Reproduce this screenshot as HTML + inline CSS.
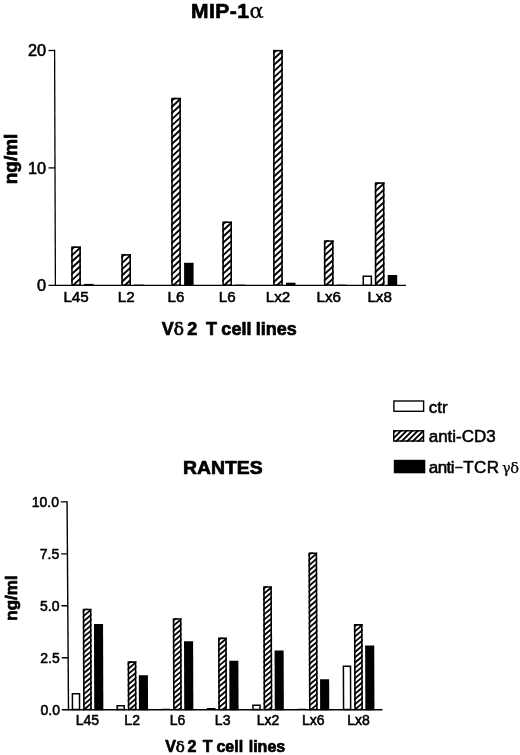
<!DOCTYPE html><html><head><meta charset="utf-8"><title>MIP-1α / RANTES</title>
<style>html,body{margin:0;padding:0;background:#fff}svg{display:block;will-change:transform;opacity:0.999}text{font-family:"Liberation Sans",Arial,sans-serif;fill:#000;stroke:#000;stroke-width:0.55px;stroke-linejoin:round}.b{font-weight:bold;stroke-width:0.7px}.s{font-family:"DejaVu Serif","Liberation Serif",serif;font-weight:normal}</style></head><body>
<svg width="520" height="755" viewBox="0 0 520 755">
<rect width="520" height="755" fill="#fff"/>
<text class="b" x="190.9" y="17.6" font-size="21" letter-spacing="0.5">MIP-1<tspan class="s" font-size="21" dx="0.2" stroke-width="0.3">α</tspan></text>
<text class="b" font-size="19" text-anchor="middle" transform="translate(16.8,159) rotate(-90)">ng/ml</text>
<g stroke="#000" stroke-width="1.3" fill="none">
<line x1="54.60" y1="49.85" x2="55.40" y2="285.95"/>
<line x1="48.5" y1="285.30" x2="406" y2="285.30"/>
<line x1="48.5" y1="167.90" x2="55.00" y2="167.90"/>
<line x1="48.5" y1="50.50" x2="55.00" y2="50.50"/>
</g>
<text x="46" y="291.10" font-size="16.3" text-anchor="end">0</text>
<text x="46" y="173.70" font-size="16.3" text-anchor="end">10</text>
<text x="46" y="56.30" font-size="16.3" text-anchor="end">20</text>
<clipPath id="c1"><rect x="71.20" y="246.40" width="9.70" height="39.50"/></clipPath><rect x="71.20" y="246.40" width="9.70" height="39.50" fill="#fff"/><g clip-path="url(#c1)" stroke="#000" stroke-width="1.90"><line x1="70.20" y1="250.73" x2="81.90" y2="239.97"/><line x1="70.20" y1="256.93" x2="81.90" y2="246.17"/><line x1="70.20" y1="263.13" x2="81.90" y2="252.37"/><line x1="70.20" y1="269.33" x2="81.90" y2="258.57"/><line x1="70.20" y1="275.53" x2="81.90" y2="264.77"/><line x1="70.20" y1="281.73" x2="81.90" y2="270.97"/><line x1="70.20" y1="287.93" x2="81.90" y2="277.17"/><line x1="70.20" y1="294.13" x2="81.90" y2="283.37"/><line x1="70.20" y1="300.33" x2="81.90" y2="289.57"/></g><rect x="72.00" y="247.20" width="8.10" height="37.90" fill="none" stroke="#000" stroke-width="1.60"/>
<rect x="84.10" y="283.90" width="9.50" height="2.00" fill="#000"/>
<text x="76.05" y="302" font-size="15.2" text-anchor="middle">L45</text>
<clipPath id="c2"><rect x="121.30" y="254.10" width="9.70" height="31.80"/></clipPath><rect x="121.30" y="254.10" width="9.70" height="31.80" fill="#fff"/><g clip-path="url(#c2)" stroke="#000" stroke-width="1.90"><line x1="120.30" y1="258.43" x2="132.00" y2="247.67"/><line x1="120.30" y1="264.63" x2="132.00" y2="253.87"/><line x1="120.30" y1="270.83" x2="132.00" y2="260.07"/><line x1="120.30" y1="277.03" x2="132.00" y2="266.27"/><line x1="120.30" y1="283.23" x2="132.00" y2="272.47"/><line x1="120.30" y1="289.43" x2="132.00" y2="278.67"/><line x1="120.30" y1="295.63" x2="132.00" y2="284.87"/><line x1="120.30" y1="301.83" x2="132.00" y2="291.07"/></g><rect x="122.10" y="254.90" width="8.10" height="30.20" fill="none" stroke="#000" stroke-width="1.60"/>
<rect x="134.20" y="284.60" width="9.50" height="1.30" fill="#000"/>
<text x="126.15" y="302" font-size="15.2" text-anchor="middle">L2</text>
<clipPath id="c3"><rect x="171.20" y="97.80" width="9.70" height="188.10"/></clipPath><rect x="171.20" y="97.80" width="9.70" height="188.10" fill="#fff"/><g clip-path="url(#c3)" stroke="#000" stroke-width="1.90"><line x1="170.20" y1="102.13" x2="181.90" y2="91.37"/><line x1="170.20" y1="108.33" x2="181.90" y2="97.57"/><line x1="170.20" y1="114.53" x2="181.90" y2="103.77"/><line x1="170.20" y1="120.73" x2="181.90" y2="109.97"/><line x1="170.20" y1="126.93" x2="181.90" y2="116.17"/><line x1="170.20" y1="133.13" x2="181.90" y2="122.37"/><line x1="170.20" y1="139.33" x2="181.90" y2="128.57"/><line x1="170.20" y1="145.53" x2="181.90" y2="134.77"/><line x1="170.20" y1="151.73" x2="181.90" y2="140.97"/><line x1="170.20" y1="157.93" x2="181.90" y2="147.17"/><line x1="170.20" y1="164.13" x2="181.90" y2="153.37"/><line x1="170.20" y1="170.33" x2="181.90" y2="159.57"/><line x1="170.20" y1="176.53" x2="181.90" y2="165.77"/><line x1="170.20" y1="182.73" x2="181.90" y2="171.97"/><line x1="170.20" y1="188.93" x2="181.90" y2="178.17"/><line x1="170.20" y1="195.13" x2="181.90" y2="184.37"/><line x1="170.20" y1="201.33" x2="181.90" y2="190.57"/><line x1="170.20" y1="207.53" x2="181.90" y2="196.77"/><line x1="170.20" y1="213.73" x2="181.90" y2="202.97"/><line x1="170.20" y1="219.93" x2="181.90" y2="209.17"/><line x1="170.20" y1="226.13" x2="181.90" y2="215.37"/><line x1="170.20" y1="232.33" x2="181.90" y2="221.57"/><line x1="170.20" y1="238.53" x2="181.90" y2="227.77"/><line x1="170.20" y1="244.73" x2="181.90" y2="233.97"/><line x1="170.20" y1="250.93" x2="181.90" y2="240.17"/><line x1="170.20" y1="257.13" x2="181.90" y2="246.37"/><line x1="170.20" y1="263.33" x2="181.90" y2="252.57"/><line x1="170.20" y1="269.53" x2="181.90" y2="258.77"/><line x1="170.20" y1="275.73" x2="181.90" y2="264.97"/><line x1="170.20" y1="281.93" x2="181.90" y2="271.17"/><line x1="170.20" y1="288.13" x2="181.90" y2="277.37"/><line x1="170.20" y1="294.33" x2="181.90" y2="283.57"/><line x1="170.20" y1="300.53" x2="181.90" y2="289.77"/></g><rect x="172.00" y="98.60" width="8.10" height="186.50" fill="none" stroke="#000" stroke-width="1.60"/>
<rect x="184.10" y="262.80" width="9.50" height="23.10" fill="#000"/>
<text x="176.05" y="302" font-size="15.2" text-anchor="middle">L6</text>
<clipPath id="c4"><rect x="222.30" y="221.50" width="9.70" height="64.40"/></clipPath><rect x="222.30" y="221.50" width="9.70" height="64.40" fill="#fff"/><g clip-path="url(#c4)" stroke="#000" stroke-width="1.90"><line x1="221.30" y1="225.83" x2="233.00" y2="215.07"/><line x1="221.30" y1="232.03" x2="233.00" y2="221.27"/><line x1="221.30" y1="238.23" x2="233.00" y2="227.47"/><line x1="221.30" y1="244.43" x2="233.00" y2="233.67"/><line x1="221.30" y1="250.63" x2="233.00" y2="239.87"/><line x1="221.30" y1="256.83" x2="233.00" y2="246.07"/><line x1="221.30" y1="263.03" x2="233.00" y2="252.27"/><line x1="221.30" y1="269.23" x2="233.00" y2="258.47"/><line x1="221.30" y1="275.43" x2="233.00" y2="264.67"/><line x1="221.30" y1="281.63" x2="233.00" y2="270.87"/><line x1="221.30" y1="287.83" x2="233.00" y2="277.07"/><line x1="221.30" y1="294.03" x2="233.00" y2="283.27"/><line x1="221.30" y1="300.23" x2="233.00" y2="289.47"/></g><rect x="223.10" y="222.30" width="8.10" height="62.80" fill="none" stroke="#000" stroke-width="1.60"/>
<rect x="235.20" y="284.60" width="9.50" height="1.30" fill="#000"/>
<text x="227.15" y="302" font-size="15.2" text-anchor="middle">L6</text>
<clipPath id="c5"><rect x="273.10" y="49.90" width="9.70" height="236.00"/></clipPath><rect x="273.10" y="49.90" width="9.70" height="236.00" fill="#fff"/><g clip-path="url(#c5)" stroke="#000" stroke-width="1.90"><line x1="272.10" y1="54.23" x2="283.80" y2="43.47"/><line x1="272.10" y1="60.43" x2="283.80" y2="49.67"/><line x1="272.10" y1="66.63" x2="283.80" y2="55.87"/><line x1="272.10" y1="72.83" x2="283.80" y2="62.07"/><line x1="272.10" y1="79.03" x2="283.80" y2="68.27"/><line x1="272.10" y1="85.23" x2="283.80" y2="74.47"/><line x1="272.10" y1="91.43" x2="283.80" y2="80.67"/><line x1="272.10" y1="97.63" x2="283.80" y2="86.87"/><line x1="272.10" y1="103.83" x2="283.80" y2="93.07"/><line x1="272.10" y1="110.03" x2="283.80" y2="99.27"/><line x1="272.10" y1="116.23" x2="283.80" y2="105.47"/><line x1="272.10" y1="122.43" x2="283.80" y2="111.67"/><line x1="272.10" y1="128.63" x2="283.80" y2="117.87"/><line x1="272.10" y1="134.83" x2="283.80" y2="124.07"/><line x1="272.10" y1="141.03" x2="283.80" y2="130.27"/><line x1="272.10" y1="147.23" x2="283.80" y2="136.47"/><line x1="272.10" y1="153.43" x2="283.80" y2="142.67"/><line x1="272.10" y1="159.63" x2="283.80" y2="148.87"/><line x1="272.10" y1="165.83" x2="283.80" y2="155.07"/><line x1="272.10" y1="172.03" x2="283.80" y2="161.27"/><line x1="272.10" y1="178.23" x2="283.80" y2="167.47"/><line x1="272.10" y1="184.43" x2="283.80" y2="173.67"/><line x1="272.10" y1="190.63" x2="283.80" y2="179.87"/><line x1="272.10" y1="196.83" x2="283.80" y2="186.07"/><line x1="272.10" y1="203.03" x2="283.80" y2="192.27"/><line x1="272.10" y1="209.23" x2="283.80" y2="198.47"/><line x1="272.10" y1="215.43" x2="283.80" y2="204.67"/><line x1="272.10" y1="221.63" x2="283.80" y2="210.87"/><line x1="272.10" y1="227.83" x2="283.80" y2="217.07"/><line x1="272.10" y1="234.03" x2="283.80" y2="223.27"/><line x1="272.10" y1="240.23" x2="283.80" y2="229.47"/><line x1="272.10" y1="246.43" x2="283.80" y2="235.67"/><line x1="272.10" y1="252.63" x2="283.80" y2="241.87"/><line x1="272.10" y1="258.83" x2="283.80" y2="248.07"/><line x1="272.10" y1="265.03" x2="283.80" y2="254.27"/><line x1="272.10" y1="271.23" x2="283.80" y2="260.47"/><line x1="272.10" y1="277.43" x2="283.80" y2="266.67"/><line x1="272.10" y1="283.63" x2="283.80" y2="272.87"/><line x1="272.10" y1="289.83" x2="283.80" y2="279.07"/><line x1="272.10" y1="296.03" x2="283.80" y2="285.27"/></g><rect x="273.90" y="50.70" width="8.10" height="234.40" fill="none" stroke="#000" stroke-width="1.60"/>
<rect x="286.00" y="282.70" width="9.50" height="3.20" fill="#000"/>
<text x="277.95" y="302" font-size="15.2" text-anchor="middle">Lx2</text>
<clipPath id="c6"><rect x="323.90" y="240.30" width="9.70" height="45.60"/></clipPath><rect x="323.90" y="240.30" width="9.70" height="45.60" fill="#fff"/><g clip-path="url(#c6)" stroke="#000" stroke-width="1.90"><line x1="322.90" y1="244.63" x2="334.60" y2="233.87"/><line x1="322.90" y1="250.83" x2="334.60" y2="240.07"/><line x1="322.90" y1="257.03" x2="334.60" y2="246.27"/><line x1="322.90" y1="263.23" x2="334.60" y2="252.47"/><line x1="322.90" y1="269.43" x2="334.60" y2="258.67"/><line x1="322.90" y1="275.63" x2="334.60" y2="264.87"/><line x1="322.90" y1="281.83" x2="334.60" y2="271.07"/><line x1="322.90" y1="288.03" x2="334.60" y2="277.27"/><line x1="322.90" y1="294.23" x2="334.60" y2="283.47"/><line x1="322.90" y1="300.43" x2="334.60" y2="289.67"/></g><rect x="324.70" y="241.10" width="8.10" height="44.00" fill="none" stroke="#000" stroke-width="1.60"/>
<rect x="336.80" y="284.60" width="9.50" height="1.30" fill="#000"/>
<text x="328.75" y="302" font-size="15.2" text-anchor="middle">Lx6</text>
<rect x="363.25" y="276.25" width="8.10" height="8.90" fill="#fff" stroke="#000" stroke-width="1.50"/>
<clipPath id="c7"><rect x="374.80" y="182.30" width="9.70" height="103.60"/></clipPath><rect x="374.80" y="182.30" width="9.70" height="103.60" fill="#fff"/><g clip-path="url(#c7)" stroke="#000" stroke-width="1.90"><line x1="373.80" y1="186.63" x2="385.50" y2="175.87"/><line x1="373.80" y1="192.83" x2="385.50" y2="182.07"/><line x1="373.80" y1="199.03" x2="385.50" y2="188.27"/><line x1="373.80" y1="205.23" x2="385.50" y2="194.47"/><line x1="373.80" y1="211.43" x2="385.50" y2="200.67"/><line x1="373.80" y1="217.63" x2="385.50" y2="206.87"/><line x1="373.80" y1="223.83" x2="385.50" y2="213.07"/><line x1="373.80" y1="230.03" x2="385.50" y2="219.27"/><line x1="373.80" y1="236.23" x2="385.50" y2="225.47"/><line x1="373.80" y1="242.43" x2="385.50" y2="231.67"/><line x1="373.80" y1="248.63" x2="385.50" y2="237.87"/><line x1="373.80" y1="254.83" x2="385.50" y2="244.07"/><line x1="373.80" y1="261.03" x2="385.50" y2="250.27"/><line x1="373.80" y1="267.23" x2="385.50" y2="256.47"/><line x1="373.80" y1="273.43" x2="385.50" y2="262.67"/><line x1="373.80" y1="279.63" x2="385.50" y2="268.87"/><line x1="373.80" y1="285.83" x2="385.50" y2="275.07"/><line x1="373.80" y1="292.03" x2="385.50" y2="281.27"/><line x1="373.80" y1="298.23" x2="385.50" y2="287.47"/></g><rect x="375.60" y="183.10" width="8.10" height="102.00" fill="none" stroke="#000" stroke-width="1.60"/>
<rect x="387.70" y="275.00" width="9.50" height="10.90" fill="#000"/>
<text x="379.65" y="302" font-size="15.2" text-anchor="middle">Lx8</text>
<text class="b" x="161.7" y="335.2" font-size="18">V<tspan class="s" font-size="17">δ</tspan><tspan dx="3.4">2</tspan><tspan dx="8.7" word-spacing="-0.7">T cell lines</tspan></text>
<rect x="393.90" y="401.00" width="29.70" height="10.30" fill="#fff" stroke="#000" stroke-width="1.40"/>
<clipPath id="c8"><rect x="393.00" y="430.10" width="31.20" height="11.60"/></clipPath><rect x="393.00" y="430.10" width="31.20" height="11.60" fill="#fff"/><g clip-path="url(#c8)" stroke="#000" stroke-width="1.90"><line x1="392.00" y1="434.18" x2="425.20" y2="400.98"/><line x1="392.00" y1="439.78" x2="425.20" y2="406.58"/><line x1="392.00" y1="445.38" x2="425.20" y2="412.18"/><line x1="392.00" y1="450.98" x2="425.20" y2="417.78"/><line x1="392.00" y1="456.58" x2="425.20" y2="423.38"/><line x1="392.00" y1="462.18" x2="425.20" y2="428.98"/><line x1="392.00" y1="467.78" x2="425.20" y2="434.58"/><line x1="392.00" y1="473.38" x2="425.20" y2="440.18"/><line x1="392.00" y1="478.98" x2="425.20" y2="445.78"/></g><rect x="393.70" y="430.80" width="29.80" height="10.20" fill="none" stroke="#000" stroke-width="1.40"/>
<rect x="393.80" y="459.80" width="31.50" height="13.50" fill="#000"/>
<text x="428.7" y="412.5" font-size="17">ctr</text>
<text x="428.7" y="441.6" font-size="17">anti-CD3</text>
<text x="428.7" y="472.8" font-size="17" letter-spacing="-0.5">anti<tspan x="455.4" dy="-1.4" font-size="12.5">–</tspan><tspan x="463.2" dy="1.4" letter-spacing="0.5">TCR</tspan><tspan class="s" font-size="14.5" x="502" letter-spacing="-0.3" stroke-width="0.25">γδ</tspan></text>
<text class="b" transform="translate(183,473.7) scale(1.06,1)" font-size="18.3" stroke-width="0.7">RANTES</text>
<text class="b" font-size="17" text-anchor="middle" transform="translate(17.3,598) rotate(-90)">ng/ml</text>
<g transform="matrix(1,0,0.0035,1,-2.484,0)">
<g stroke="#000" stroke-width="1.4" fill="none">
<line x1="67.80" y1="501.20" x2="68.50" y2="710.40"/>
<line x1="61.8" y1="709.70" x2="382.5" y2="709.70"/>
<line x1="62.03" y1="657.75" x2="68.33" y2="657.75"/>
<line x1="61.85" y1="605.80" x2="68.15" y2="605.80"/>
<line x1="61.68" y1="553.85" x2="67.97" y2="553.85"/>
<line x1="61.50" y1="501.90" x2="67.80" y2="501.90"/>
</g>
<rect x="72.45" y="693.83" width="7.10" height="15.72" fill="#fff" stroke="#000" stroke-width="1.50"/>
<clipPath id="c9"><rect x="83.10" y="608.71" width="8.70" height="101.59"/></clipPath><rect x="83.10" y="608.71" width="8.70" height="101.59" fill="#fff"/><g clip-path="url(#c9)" stroke="#000" stroke-width="1.80"><line x1="82.10" y1="612.42" x2="92.80" y2="603.32"/><line x1="82.10" y1="617.62" x2="92.80" y2="608.52"/><line x1="82.10" y1="622.82" x2="92.80" y2="613.72"/><line x1="82.10" y1="628.02" x2="92.80" y2="618.92"/><line x1="82.10" y1="633.22" x2="92.80" y2="624.12"/><line x1="82.10" y1="638.42" x2="92.80" y2="629.32"/><line x1="82.10" y1="643.62" x2="92.80" y2="634.52"/><line x1="82.10" y1="648.82" x2="92.80" y2="639.72"/><line x1="82.10" y1="654.02" x2="92.80" y2="644.92"/><line x1="82.10" y1="659.22" x2="92.80" y2="650.12"/><line x1="82.10" y1="664.42" x2="92.80" y2="655.32"/><line x1="82.10" y1="669.62" x2="92.80" y2="660.52"/><line x1="82.10" y1="674.82" x2="92.80" y2="665.72"/><line x1="82.10" y1="680.02" x2="92.80" y2="670.92"/><line x1="82.10" y1="685.22" x2="92.80" y2="676.12"/><line x1="82.10" y1="690.42" x2="92.80" y2="681.32"/><line x1="82.10" y1="695.62" x2="92.80" y2="686.52"/><line x1="82.10" y1="700.82" x2="92.80" y2="691.72"/><line x1="82.10" y1="706.02" x2="92.80" y2="696.92"/><line x1="82.10" y1="711.22" x2="92.80" y2="702.12"/><line x1="82.10" y1="716.42" x2="92.80" y2="707.32"/><line x1="82.10" y1="721.62" x2="92.80" y2="712.52"/></g><rect x="83.90" y="609.51" width="7.10" height="99.99" fill="none" stroke="#000" stroke-width="1.60"/>
<rect x="94.25" y="623.88" width="9.10" height="86.42" fill="#000"/>
<rect x="117.15" y="705.67" width="7.10" height="3.88" fill="#fff" stroke="#000" stroke-width="1.50"/>
<clipPath id="c10"><rect x="127.80" y="661.28" width="8.70" height="49.02"/></clipPath><rect x="127.80" y="661.28" width="8.70" height="49.02" fill="#fff"/><g clip-path="url(#c10)" stroke="#000" stroke-width="1.80"><line x1="126.80" y1="664.99" x2="137.50" y2="655.90"/><line x1="126.80" y1="670.19" x2="137.50" y2="661.10"/><line x1="126.80" y1="675.39" x2="137.50" y2="666.30"/><line x1="126.80" y1="680.59" x2="137.50" y2="671.50"/><line x1="126.80" y1="685.79" x2="137.50" y2="676.70"/><line x1="126.80" y1="690.99" x2="137.50" y2="681.90"/><line x1="126.80" y1="696.19" x2="137.50" y2="687.10"/><line x1="126.80" y1="701.39" x2="137.50" y2="692.30"/><line x1="126.80" y1="706.59" x2="137.50" y2="697.50"/><line x1="126.80" y1="711.79" x2="137.50" y2="702.70"/><line x1="126.80" y1="716.99" x2="137.50" y2="707.90"/><line x1="126.80" y1="722.19" x2="137.50" y2="713.10"/></g><rect x="128.60" y="662.08" width="7.10" height="47.42" fill="none" stroke="#000" stroke-width="1.60"/>
<rect x="138.95" y="675.21" width="9.10" height="35.09" fill="#000"/>
<rect x="161.70" y="708.64" width="8.60" height="1.06" fill="#000"/>
<clipPath id="c11"><rect x="173.10" y="618.27" width="8.70" height="92.03"/></clipPath><rect x="173.10" y="618.27" width="8.70" height="92.03" fill="#fff"/><g clip-path="url(#c11)" stroke="#000" stroke-width="1.80"><line x1="172.10" y1="621.98" x2="182.80" y2="612.88"/><line x1="172.10" y1="627.18" x2="182.80" y2="618.08"/><line x1="172.10" y1="632.38" x2="182.80" y2="623.28"/><line x1="172.10" y1="637.58" x2="182.80" y2="628.48"/><line x1="172.10" y1="642.78" x2="182.80" y2="633.68"/><line x1="172.10" y1="647.98" x2="182.80" y2="638.88"/><line x1="172.10" y1="653.18" x2="182.80" y2="644.08"/><line x1="172.10" y1="658.38" x2="182.80" y2="649.28"/><line x1="172.10" y1="663.58" x2="182.80" y2="654.48"/><line x1="172.10" y1="668.78" x2="182.80" y2="659.68"/><line x1="172.10" y1="673.98" x2="182.80" y2="664.88"/><line x1="172.10" y1="679.18" x2="182.80" y2="670.08"/><line x1="172.10" y1="684.38" x2="182.80" y2="675.28"/><line x1="172.10" y1="689.58" x2="182.80" y2="680.48"/><line x1="172.10" y1="694.78" x2="182.80" y2="685.68"/><line x1="172.10" y1="699.98" x2="182.80" y2="690.88"/><line x1="172.10" y1="705.18" x2="182.80" y2="696.08"/><line x1="172.10" y1="710.38" x2="182.80" y2="701.28"/><line x1="172.10" y1="715.58" x2="182.80" y2="706.48"/><line x1="172.10" y1="720.78" x2="182.80" y2="711.68"/></g><rect x="173.90" y="619.07" width="7.10" height="90.43" fill="none" stroke="#000" stroke-width="1.60"/>
<rect x="184.25" y="641.33" width="9.10" height="68.97" fill="#000"/>
<rect x="206.90" y="708.04" width="8.60" height="1.66" fill="#000"/>
<clipPath id="c12"><rect x="218.30" y="637.59" width="8.70" height="72.71"/></clipPath><rect x="218.30" y="637.59" width="8.70" height="72.71" fill="#fff"/><g clip-path="url(#c12)" stroke="#000" stroke-width="1.80"><line x1="217.30" y1="641.30" x2="228.00" y2="632.21"/><line x1="217.30" y1="646.50" x2="228.00" y2="637.41"/><line x1="217.30" y1="651.70" x2="228.00" y2="642.61"/><line x1="217.30" y1="656.90" x2="228.00" y2="647.81"/><line x1="217.30" y1="662.10" x2="228.00" y2="653.01"/><line x1="217.30" y1="667.30" x2="228.00" y2="658.21"/><line x1="217.30" y1="672.50" x2="228.00" y2="663.41"/><line x1="217.30" y1="677.70" x2="228.00" y2="668.61"/><line x1="217.30" y1="682.90" x2="228.00" y2="673.81"/><line x1="217.30" y1="688.10" x2="228.00" y2="679.01"/><line x1="217.30" y1="693.30" x2="228.00" y2="684.21"/><line x1="217.30" y1="698.50" x2="228.00" y2="689.41"/><line x1="217.30" y1="703.70" x2="228.00" y2="694.61"/><line x1="217.30" y1="708.90" x2="228.00" y2="699.81"/><line x1="217.30" y1="714.10" x2="228.00" y2="705.01"/><line x1="217.30" y1="719.30" x2="228.00" y2="710.21"/></g><rect x="219.10" y="638.39" width="7.10" height="71.11" fill="none" stroke="#000" stroke-width="1.60"/>
<rect x="229.45" y="660.87" width="9.10" height="49.43" fill="#000"/>
<rect x="252.95" y="705.25" width="7.10" height="4.30" fill="#fff" stroke="#000" stroke-width="1.50"/>
<clipPath id="c13"><rect x="263.60" y="586.27" width="8.70" height="124.03"/></clipPath><rect x="263.60" y="586.27" width="8.70" height="124.03" fill="#fff"/><g clip-path="url(#c13)" stroke="#000" stroke-width="1.80"><line x1="262.60" y1="589.98" x2="273.30" y2="580.88"/><line x1="262.60" y1="595.18" x2="273.30" y2="586.08"/><line x1="262.60" y1="600.38" x2="273.30" y2="591.28"/><line x1="262.60" y1="605.58" x2="273.30" y2="596.48"/><line x1="262.60" y1="610.78" x2="273.30" y2="601.68"/><line x1="262.60" y1="615.98" x2="273.30" y2="606.88"/><line x1="262.60" y1="621.18" x2="273.30" y2="612.08"/><line x1="262.60" y1="626.38" x2="273.30" y2="617.28"/><line x1="262.60" y1="631.58" x2="273.30" y2="622.48"/><line x1="262.60" y1="636.78" x2="273.30" y2="627.68"/><line x1="262.60" y1="641.98" x2="273.30" y2="632.88"/><line x1="262.60" y1="647.18" x2="273.30" y2="638.08"/><line x1="262.60" y1="652.38" x2="273.30" y2="643.28"/><line x1="262.60" y1="657.58" x2="273.30" y2="648.48"/><line x1="262.60" y1="662.78" x2="273.30" y2="653.68"/><line x1="262.60" y1="667.98" x2="273.30" y2="658.88"/><line x1="262.60" y1="673.18" x2="273.30" y2="664.08"/><line x1="262.60" y1="678.38" x2="273.30" y2="669.28"/><line x1="262.60" y1="683.58" x2="273.30" y2="674.48"/><line x1="262.60" y1="688.78" x2="273.30" y2="679.68"/><line x1="262.60" y1="693.98" x2="273.30" y2="684.88"/><line x1="262.60" y1="699.18" x2="273.30" y2="690.08"/><line x1="262.60" y1="704.38" x2="273.30" y2="695.28"/><line x1="262.60" y1="709.58" x2="273.30" y2="700.48"/><line x1="262.60" y1="714.78" x2="273.30" y2="705.68"/><line x1="262.60" y1="719.98" x2="273.30" y2="710.88"/></g><rect x="264.40" y="587.07" width="7.10" height="122.43" fill="none" stroke="#000" stroke-width="1.60"/>
<rect x="274.75" y="650.48" width="9.10" height="59.82" fill="#000"/>
<rect x="297.60" y="708.64" width="8.60" height="1.06" fill="#000"/>
<clipPath id="c14"><rect x="309.00" y="552.40" width="8.70" height="157.90"/></clipPath><rect x="309.00" y="552.40" width="8.70" height="157.90" fill="#fff"/><g clip-path="url(#c14)" stroke="#000" stroke-width="1.80"><line x1="308.00" y1="556.11" x2="318.70" y2="547.01"/><line x1="308.00" y1="561.31" x2="318.70" y2="552.21"/><line x1="308.00" y1="566.51" x2="318.70" y2="557.41"/><line x1="308.00" y1="571.71" x2="318.70" y2="562.61"/><line x1="308.00" y1="576.91" x2="318.70" y2="567.81"/><line x1="308.00" y1="582.11" x2="318.70" y2="573.01"/><line x1="308.00" y1="587.31" x2="318.70" y2="578.21"/><line x1="308.00" y1="592.51" x2="318.70" y2="583.41"/><line x1="308.00" y1="597.71" x2="318.70" y2="588.61"/><line x1="308.00" y1="602.91" x2="318.70" y2="593.81"/><line x1="308.00" y1="608.11" x2="318.70" y2="599.01"/><line x1="308.00" y1="613.31" x2="318.70" y2="604.21"/><line x1="308.00" y1="618.51" x2="318.70" y2="609.41"/><line x1="308.00" y1="623.71" x2="318.70" y2="614.61"/><line x1="308.00" y1="628.91" x2="318.70" y2="619.81"/><line x1="308.00" y1="634.11" x2="318.70" y2="625.01"/><line x1="308.00" y1="639.31" x2="318.70" y2="630.21"/><line x1="308.00" y1="644.51" x2="318.70" y2="635.41"/><line x1="308.00" y1="649.71" x2="318.70" y2="640.61"/><line x1="308.00" y1="654.91" x2="318.70" y2="645.81"/><line x1="308.00" y1="660.11" x2="318.70" y2="651.01"/><line x1="308.00" y1="665.31" x2="318.70" y2="656.21"/><line x1="308.00" y1="670.51" x2="318.70" y2="661.41"/><line x1="308.00" y1="675.71" x2="318.70" y2="666.61"/><line x1="308.00" y1="680.91" x2="318.70" y2="671.81"/><line x1="308.00" y1="686.11" x2="318.70" y2="677.01"/><line x1="308.00" y1="691.31" x2="318.70" y2="682.21"/><line x1="308.00" y1="696.51" x2="318.70" y2="687.41"/><line x1="308.00" y1="701.71" x2="318.70" y2="692.61"/><line x1="308.00" y1="706.91" x2="318.70" y2="697.81"/><line x1="308.00" y1="712.11" x2="318.70" y2="703.01"/><line x1="308.00" y1="717.31" x2="318.70" y2="708.21"/><line x1="308.00" y1="722.51" x2="318.70" y2="713.41"/></g><rect x="309.80" y="553.20" width="7.10" height="156.30" fill="none" stroke="#000" stroke-width="1.60"/>
<rect x="320.15" y="679.36" width="9.10" height="30.94" fill="#000"/>
<rect x="343.55" y="666.19" width="7.10" height="43.36" fill="#fff" stroke="#000" stroke-width="1.50"/>
<clipPath id="c15"><rect x="354.20" y="624.09" width="8.70" height="86.21"/></clipPath><rect x="354.20" y="624.09" width="8.70" height="86.21" fill="#fff"/><g clip-path="url(#c15)" stroke="#000" stroke-width="1.80"><line x1="353.20" y1="627.80" x2="363.90" y2="618.70"/><line x1="353.20" y1="633.00" x2="363.90" y2="623.90"/><line x1="353.20" y1="638.20" x2="363.90" y2="629.10"/><line x1="353.20" y1="643.40" x2="363.90" y2="634.30"/><line x1="353.20" y1="648.60" x2="363.90" y2="639.50"/><line x1="353.20" y1="653.80" x2="363.90" y2="644.70"/><line x1="353.20" y1="659.00" x2="363.90" y2="649.90"/><line x1="353.20" y1="664.20" x2="363.90" y2="655.10"/><line x1="353.20" y1="669.40" x2="363.90" y2="660.30"/><line x1="353.20" y1="674.60" x2="363.90" y2="665.50"/><line x1="353.20" y1="679.80" x2="363.90" y2="670.70"/><line x1="353.20" y1="685.00" x2="363.90" y2="675.90"/><line x1="353.20" y1="690.20" x2="363.90" y2="681.10"/><line x1="353.20" y1="695.40" x2="363.90" y2="686.30"/><line x1="353.20" y1="700.60" x2="363.90" y2="691.50"/><line x1="353.20" y1="705.80" x2="363.90" y2="696.70"/><line x1="353.20" y1="711.00" x2="363.90" y2="701.90"/><line x1="353.20" y1="716.20" x2="363.90" y2="707.10"/><line x1="353.20" y1="721.40" x2="363.90" y2="712.30"/></g><rect x="355.00" y="624.89" width="7.10" height="84.61" fill="none" stroke="#000" stroke-width="1.60"/>
<rect x="365.35" y="645.49" width="9.10" height="64.81" fill="#000"/>
</g>
<text x="60.00" y="714.70" font-size="14" text-anchor="end">0.0</text>
<text x="59.75" y="662.75" font-size="14" text-anchor="end">2.5</text>
<text x="59.50" y="610.80" font-size="14" text-anchor="end">5.0</text>
<text x="59.25" y="558.85" font-size="14" text-anchor="end">7.5</text>
<text x="59.00" y="506.90" font-size="14" text-anchor="end">10.0</text>
<text x="87.45" y="725.3" font-size="14" text-anchor="middle">L45</text>
<text x="132.15" y="725.3" font-size="14" text-anchor="middle">L2</text>
<text x="177.45" y="725.3" font-size="14" text-anchor="middle">L6</text>
<text x="222.65" y="725.3" font-size="14" text-anchor="middle">L3</text>
<text x="267.95" y="725.3" font-size="14" text-anchor="middle">Lx2</text>
<text x="313.35" y="725.3" font-size="14" text-anchor="middle">Lx6</text>
<text x="358.55" y="725.3" font-size="14" text-anchor="middle">Lx8</text>
<text class="b" x="165.2" y="752" font-size="16">V<tspan class="s" font-size="15">δ</tspan><tspan dx="2.6">2</tspan><tspan dx="6.4" word-spacing="-0.6">T cell</tspan><tspan dx="5.6">lines</tspan></text>
</svg></body></html>
